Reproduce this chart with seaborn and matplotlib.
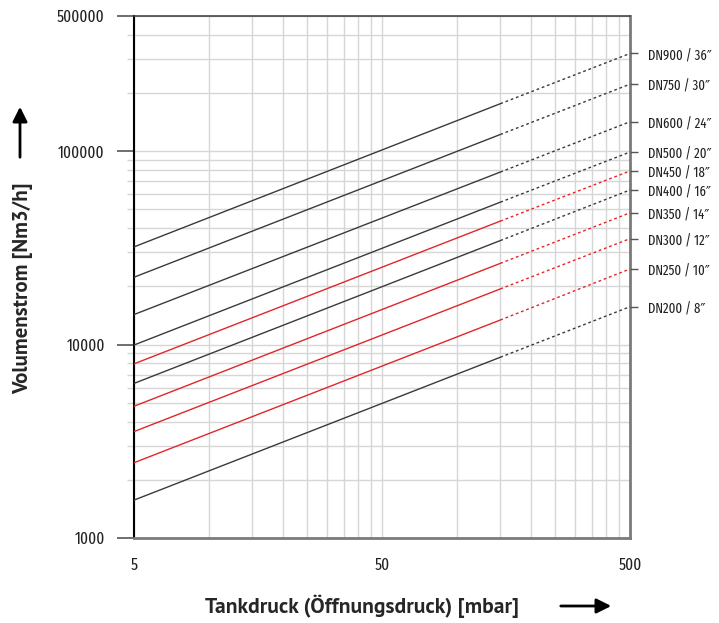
import pandas as pd
import numpy as np
import seaborn as sns
import matplotlib.pyplot as plt
from matplotlib.ticker import NullLocator

# nominal sizes and flow (Nm3/h) at 5, 150 and 500 mbar
sizes = ['DN900 / 36\u2033', 'DN750 / 30\u2033', 'DN600 / 24\u2033', 'DN500 / 20\u2033',
         'DN450 / 18\u2033', 'DN400 / 16\u2033', 'DN350 / 14\u2033', 'DN300 / 12\u2033',
         'DN250 / 10\u2033', 'DN200 / 8\u2033']
q_5 = [32000, 22300, 14300, 9950, 7950, 6300, 4800, 3550, 2450, 1570]
q_150 = [176000, 122000, 78000, 54500, 43500, 34500, 26300, 19400, 13400, 8600]
q_500 = [320000, 222000, 142000, 99000, 79000, 63000, 48000, 35300, 24600, 15700]
line_colors = ['#3a3a3a', '#3a3a3a', '#3a3a3a', '#3a3a3a', '#e0262c',
               '#3a3a3a', '#e0262c', '#e0262c', '#e0262c', '#3a3a3a']

x_major = [5, 50, 500]
x_minor = [10, 15, 20, 25, 30, 35, 40, 45, 100, 150, 200, 250, 300, 350, 400, 450]
y_major = [1000, 10000, 100000, 500000]

solid = pd.DataFrame({'dn': sizes * 2, 'p': [5] * 10 + [150] * 10, 'q': q_5 + q_150})
dotted = pd.DataFrame({'dn': sizes * 2, 'p': [150] * 10 + [500] * 10, 'q': q_150 + q_500})
pal = dict(zip(sizes, line_colors))

sns.set_style('white')
plt.rcParams['font.family'] = ['Fira Sans Extra Condensed', 'DejaVu Sans']

fig = plt.figure(figsize=(7.19, 6.23), dpi=100)
ax = fig.add_axes([134 / 719, 1 - 538 / 623, 496 / 719, 522 / 623])

sns.lineplot(data=solid, x='p', y='q', hue='dn', palette=pal, legend=False,
             lw=1, ax=ax, zorder=3)
sns.lineplot(data=dotted, x='p', y='q', hue='dn', palette=pal, legend=False,
             lw=1, ls=(0, (2, 2)), ax=ax, zorder=3)

ax.set_xscale('log')
ax.set_yscale('log')
ax.set_xlim(5, 500)
ax.set_ylim(1000, 500000)

ax.set_xticks(x_major, [str(v) for v in x_major])
ax.set_xticks(x_minor, minor=True)
ax.set_xticklabels([], minor=True)
ax.set_yticks(y_major, [str(v) for v in y_major])
ax.tick_params(axis='x', which='both', length=0, pad=14, labelsize=12, labelcolor='#222222')
ax.tick_params(axis='y', which='major', length=12, width=1.2, color='#555555',
               pad=9, labelsize=12, labelcolor='#222222', left=True)
ax.tick_params(axis='y', which='minor', length=5, width=1, color='#d4d4d4', left=True)
ax.grid(True, which='both', color='#d6d6d6', lw=1, zorder=0)
ax.set_xlabel('')
ax.set_ylabel('')

ax.spines['left'].set_color('black')
ax.spines['left'].set_linewidth(1.5)
ax.spines['top'].set_color('#444444')
ax.spines['top'].set_linewidth(1.2)
ax.spines['bottom'].set_color('#7a7a7a')
ax.spines['bottom'].set_linewidth(2)
ax.spines['right'].set_color('#7a7a7a')
ax.spines['right'].set_linewidth(2)

# size labels on the right at the end of each line
ax2 = ax.twinx()
ax2.set_yscale('log')
ax2.set_ylim(ax.get_ylim())
ax2.set_yticks(q_500, sizes)
ax2.yaxis.set_minor_locator(NullLocator())
ax2.tick_params(axis='y', length=6, width=1, color='#555555', pad=7,
                labelsize=10, labelcolor='#222222')
ax2.grid(False)
for s in ax2.spines.values():
    s.set_visible(False)

fig.text(23 / 719, 1 - 288 / 623, 'Volumenstrom [Nm3/h]', rotation=90,
         ha='center', va='center', fontsize=15, fontweight='bold', family='PT Sans')
fig.text(362 / 719, 1 - 606 / 623, 'Tankdruck (\u00d6ffnungsdruck) [mbar]',
         ha='center', va='center', fontsize=15.5, fontweight='bold', family='PT Sans')
ax.annotate('', xy=(20 / 719, 1 - 104 / 623), xytext=(20 / 719, 1 - 160 / 623),
            xycoords='figure fraction',
            arrowprops=dict(arrowstyle='-|>', mutation_scale=22, lw=2, color='black'))
ax.annotate('', xy=(614 / 719, 1 - 606 / 623), xytext=(558 / 719, 1 - 606 / 623),
            xycoords='figure fraction',
            arrowprops=dict(arrowstyle='-|>', mutation_scale=22, lw=2, color='black'))

fig.savefig('out.png', dpi=100)
